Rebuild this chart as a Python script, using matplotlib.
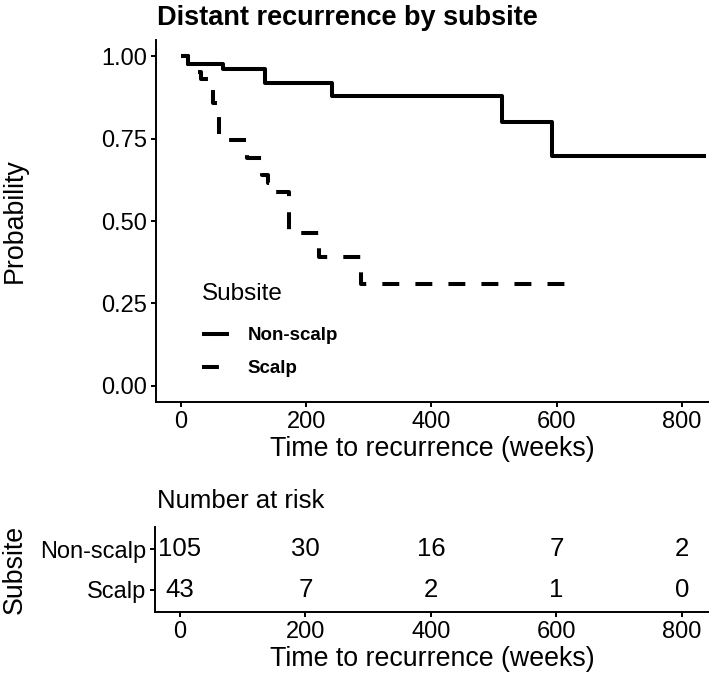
import numpy as np
import matplotlib
matplotlib.use("Agg")
import matplotlib.pyplot as plt

plt.rcParams['font.family'] = ['Liberation Sans', 'DejaVu Sans']

# Kaplan-Meier step curves (weeks, survival probability)
nonscalp_t = [0, 12, 68, 135, 241, 512, 592, 839]
nonscalp_s = [1.0, 0.978, 0.963, 0.919, 0.881, 0.800, 0.699, 0.699]

scalp_t = [0, 12, 22, 32, 45, 52, 61, 106, 130, 140, 152, 172, 220, 287, 624]
scalp_s = [1.0, 0.977, 0.953, 0.930, 0.907, 0.860, 0.745, 0.692, 0.640, 0.615,
           0.587, 0.465, 0.392, 0.310, 0.310]

groups = ['Non-scalp', 'Scalp']
risk_times = [0, 200, 400, 600, 800]
risk_nonscalp = [105, 30, 16, 7, 2]
risk_scalp = [43, 7, 2, 1, 0]

W, H = 709, 678
fig = plt.figure(figsize=(W / 100, H / 100), dpi=100)

def px_axes(left, top, right, bottom):
    return fig.add_axes([left / W, 1 - bottom / H, (right - left) / W, (bottom - top) / H])

xlim = (-39.5, 843)
lw_axis = 1.4
tick_fs = 17
title_fs = 19.3

def style(ax):
    for s in ['top', 'right']:
        ax.spines[s].set_visible(False)
    for s in ['left', 'bottom']:
        ax.spines[s].set_linewidth(lw_axis)
    ax.tick_params(length=3.8, width=lw_axis, labelsize=tick_fs, pad=2.5, colors='black')

# main survival plot
ax = px_axes(156, 40, 709, 402)
style(ax)
ax.plot(nonscalp_t, nonscalp_s, drawstyle='steps-post', color='black', lw=2.9,
        solid_capstyle='butt', label=groups[0])
ax.plot(scalp_t, scalp_s, drawstyle='steps-post', color='black', lw=2.9,
        dashes=(4.2, 4.0), dash_capstyle='butt', label=groups[1])
ax.set_xlim(*xlim)
ax.set_ylim(-0.05, 1.05)
ax.set_xticks(risk_times)
ax.set_yticks([0, 0.25, 0.5, 0.75, 1.0])
ax.set_yticklabels(['0.00', '0.25', '0.50', '0.75', '1.00'])
ax.set_xlabel('Time to recurrence (weeks)', fontsize=title_fs, labelpad=2)
ax.set_ylabel('Probability', fontsize=title_fs)
ax.yaxis.set_label_coords((28 - 156) / 553, 0.5)

leg = ax.legend(title='Subsite', loc='upper left', bbox_to_anchor=(202 / W, 1 - 283 / H),
                bbox_transform=fig.transFigure, frameon=False,
                prop={'size': 13.5, 'weight': 'bold'}, title_fontsize=17.5,
                handlelength=1.45, handletextpad=1.0, labelspacing=0.85,
                borderpad=0, borderaxespad=0, alignment='left')
leg._legend_box.sep = 16

fig.text(157 / W, 1 - 25 / H, 'Distant recurrence by subsite', fontsize=19.5,
         fontweight='bold', va='baseline', ha='left')

# risk table
tx = px_axes(155, 527, 709, 612)
style(tx)
tx.set_xlim(*xlim)
tx.set_ylim(0.45, 2.55)
tx.set_xticks(risk_times)
tx.set_yticks([2, 1])
tx.set_yticklabels(groups)
for t, n1, n2 in zip(risk_times, risk_nonscalp, risk_scalp):
    tx.text(t, 2, str(n1), ha='center', va='center', fontsize=18.5)
    tx.text(t, 1, str(n2), ha='center', va='center', fontsize=18.5)
tx.set_xlabel('Time to recurrence (weeks)', fontsize=title_fs, labelpad=2)
tx.set_ylabel('Subsite', fontsize=title_fs)
tx.yaxis.set_label_coords((28 - 155) / 554, 0.5)

fig.text(157 / W, 1 - 508 / H, 'Number at risk', fontsize=18.5, va='baseline', ha='left')

fig.savefig('out.png', dpi=100)
